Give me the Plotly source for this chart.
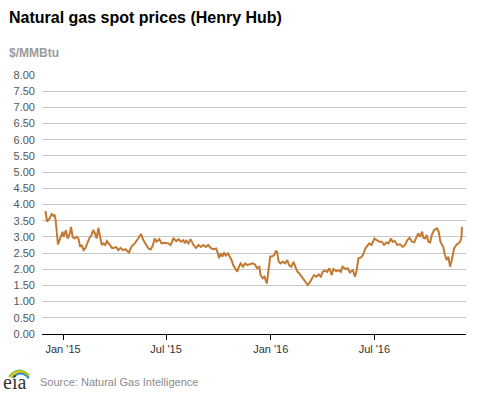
import plotly.graph_objects as go

dates = [
    "2014-12-01", "2014-12-04", "2014-12-09", "2014-12-12", "2014-12-15", "2014-12-17",
    "2014-12-19", "2014-12-23", "2014-12-28", "2014-12-31",
    "2015-01-02", "2015-01-06", "2015-01-09", "2015-01-13", "2015-01-15", "2015-01-18",
    "2015-01-21", "2015-01-25", "2015-01-28", "2015-01-31",
    "2015-02-03", "2015-02-06", "2015-02-09", "2015-02-12", "2015-02-16", "2015-02-20",
    "2015-02-23", "2015-02-26", "2015-03-01", "2015-03-04", "2015-03-07", "2015-03-10",
    "2015-03-13", "2015-03-16", "2015-03-19", "2015-03-22", "2015-03-25", "2015-03-28",
    "2015-03-31", "2015-04-04", "2015-04-08", "2015-04-12", "2015-04-16", "2015-04-20",
    "2015-04-24", "2015-04-27", "2015-05-01", "2015-05-07", "2015-05-13", "2015-05-18",
    "2015-05-22", "2015-05-27", "2015-05-31", "2015-06-04", "2015-06-08", "2015-06-11",
    "2015-06-14", "2015-06-19", "2015-06-23", "2015-06-29", "2015-07-05", "2015-07-09",
    "2015-07-14", "2015-07-19", "2015-07-23", "2015-07-27", "2015-07-31", "2015-08-03",
    "2015-08-05", "2015-08-09", "2015-08-13", "2015-08-18", "2015-08-23", "2015-08-27",
    "2015-08-31", "2015-09-04", "2015-09-09", "2015-09-13", "2015-09-17", "2015-09-22",
    "2015-09-27", "2015-09-30", "2015-10-02", "2015-10-05", "2015-10-08", "2015-10-11",
    "2015-10-14", "2015-10-18", "2015-10-21", "2015-10-24", "2015-10-27", "2015-10-31",
    "2015-11-03", "2015-11-06", "2015-11-09", "2015-11-13", "2015-11-17", "2015-11-21",
    "2015-11-26", "2015-11-30", "2015-12-04", "2015-12-08", "2015-12-12", "2015-12-14",
    "2015-12-18", "2015-12-21", "2015-12-25", "2015-12-28", "2015-12-31",
    "2016-01-03", "2016-01-07", "2016-01-10", "2016-01-12", "2016-01-15", "2016-01-18",
    "2016-01-22", "2016-01-26", "2016-01-30", "2016-02-02", "2016-02-06", "2016-02-10",
    "2016-02-13", "2016-02-17", "2016-02-20", "2016-02-24", "2016-02-28", "2016-03-03",
    "2016-03-06", "2016-03-10", "2016-03-13", "2016-03-17", "2016-03-21", "2016-03-25",
    "2016-03-29", "2016-04-01", "2016-04-05", "2016-04-09", "2016-04-13", "2016-04-17",
    "2016-04-20", "2016-04-25", "2016-04-29", "2016-05-03", "2016-05-06", "2016-05-11",
    "2016-05-15", "2016-05-19", "2016-05-24", "2016-05-28", "2016-05-31", "2016-06-03",
    "2016-06-07", "2016-06-11", "2016-06-15", "2016-06-19", "2016-06-22", "2016-06-26",
    "2016-07-01", "2016-07-05", "2016-07-10", "2016-07-14", "2016-07-18", "2016-07-22",
    "2016-07-26", "2016-07-30", "2016-08-02", "2016-08-06", "2016-08-10", "2016-08-15",
    "2016-08-20", "2016-08-24", "2016-08-28", "2016-09-01", "2016-09-05", "2016-09-09",
    "2016-09-12", "2016-09-16", "2016-09-19", "2016-09-23", "2016-09-25", "2016-09-28",
    "2016-10-01", "2016-10-04", "2016-10-07", "2016-10-10", "2016-10-14", "2016-10-19",
    "2016-10-22", "2016-10-25", "2016-10-28", "2016-10-30", "2016-11-02", "2016-11-05",
    "2016-11-08", "2016-11-11", "2016-11-14", "2016-11-16", "2016-11-18", "2016-11-22",
    "2016-11-26", "2016-11-29", "2016-12-01", "2016-12-02",
]

prices = [
    3.80, 3.47, 3.59, 3.70, 3.65, 3.69,
    3.52, 2.77, 3.00, 3.16,
    3.00, 3.21, 2.95, 3.11, 3.31, 3.00,
    2.95, 3.00, 2.95, 2.69,
    2.75, 2.59, 2.64, 2.80, 2.95, 3.06,
    3.21, 3.11, 2.95, 3.28, 2.95, 2.75,
    2.80, 2.75, 2.87, 2.80, 2.76, 2.66,
    2.66, 2.69, 2.59, 2.66, 2.59, 2.62,
    2.56, 2.52, 2.69, 2.80, 2.95, 3.09,
    2.90, 2.75, 2.64, 2.61, 2.75, 2.95,
    2.85, 2.93, 2.80, 2.82, 2.80, 2.75,
    2.95, 2.87, 2.93, 2.85, 2.90, 2.80,
    2.90, 2.80, 2.93, 2.75, 2.66, 2.75,
    2.69, 2.75, 2.69, 2.75, 2.66, 2.62,
    2.64, 2.49, 2.34, 2.49, 2.39, 2.52,
    2.42, 2.49, 2.39, 2.28, 2.13, 1.98,
    1.92, 2.08, 2.18, 2.08, 2.18, 2.13,
    2.15, 2.18, 2.15, 2.03, 2.08, 1.82,
    1.72, 1.77, 1.56, 1.92, 2.39,
    2.39, 2.44, 2.56, 2.54, 2.23, 2.18,
    2.23, 2.18, 2.28, 2.13, 2.08, 2.23,
    2.08, 1.92, 1.87, 1.77, 1.67, 1.56,
    1.51, 1.61, 1.72, 1.82, 1.77, 1.84,
    1.77, 1.92, 1.96, 1.92, 2.03, 1.82,
    2.01, 1.94, 1.97, 1.92, 2.08, 2.01,
    2.03, 1.90, 1.97, 1.77, 1.98, 2.34,
    2.36, 2.44, 2.64, 2.75, 2.80, 2.75,
    2.95, 2.90, 2.85, 2.85, 2.75, 2.83,
    2.80, 2.95, 2.85, 2.87, 2.75, 2.77,
    2.69, 2.75, 2.90, 2.97, 2.85, 2.83,
    2.97, 3.11, 3.00, 3.16, 2.97, 2.95,
    3.06, 2.85, 2.83, 3.06, 3.21, 3.26,
    3.16, 2.85, 2.75, 2.69, 2.44, 2.28,
    2.39, 2.08, 2.28, 2.49, 2.64, 2.75,
    2.80, 2.85, 3.00, 3.31,
]

tick_dates = ["2015-01-01", "2015-07-01", "2016-01-01", "2016-07-01"]
tick_labels = ["Jan '15", "Jul '15", "Jan '16", "Jul '16"]
y_ticks = [i * 0.5 for i in range(17)]

title_text = "Natural gas spot prices (Henry Hub)"
unit_text = "$/MMBtu"
source_text = "Source: Natural Gas Intelligence"

W, H = 477, 393
L, R, T, B = 42, 11, 75, 59
PW, PH = W - L - R, H - T - B


def px(x, y):
    """pixel -> paper coordinates (for decorations only)"""
    return (x - L) / PW, (H - B - y) / PH


fig = go.Figure()
fig.add_trace(go.Scatter(
    x=dates, y=prices, mode="lines",
    line=dict(color="#c27a33", width=2),
    hoverinfo="x+y", showlegend=False,
))

font_family = "Liberation Sans, Arial, sans-serif"

annotations = []
ax, ay = px(7, 17)
annotations.append(dict(text="<b>" + title_text + "</b>", xref="paper", yref="paper",
                        x=ax, y=ay, xanchor="left", yanchor="middle", showarrow=False,
                        font=dict(family=font_family, size=16, color="#000000")))
ax, ay = px(7, 53)
annotations.append(dict(text="<b>" + unit_text + "</b>", xref="paper", yref="paper",
                        x=ax, y=ay, xanchor="left", yanchor="middle", showarrow=False,
                        font=dict(family=font_family, size=12, color="#9a9a9a")))
ax, ay = px(38, 382)
annotations.append(dict(text=source_text, xref="paper", yref="paper",
                        x=ax, y=ay, xanchor="left", yanchor="middle", showarrow=False,
                        font=dict(family=font_family, size=11, color="#8a8a8a")))
ax, ay = px(1, 382)
annotations.append(dict(text="eia", xref="paper", yref="paper",
                        x=ax, y=ay, xanchor="left", yanchor="middle", showarrow=False,
                        font=dict(family="Liberation Serif, DejaVu Serif, serif", size=20,
                                  color="#333333")))

shapes = []
arc_specs = [("#8cc63f", 0), ("#f2c200", 2), ("#2a8fd0", 4)]
for color, off in arc_specs:
    x0, y0 = px(9 + off, 377 + off * 0.3)
    xm, ym = px(18 + off * 0.5, 365 + off)
    x1, y1 = px(29, 375 + off * 0.8)
    shapes.append(dict(type="path", xref="paper", yref="paper",
                       path=f"M {x0},{y0} Q {xm},{ym} {x1},{y1}",
                       line=dict(color=color, width=2)))

fig.update_layout(
    width=W, height=H,
    margin=dict(l=L, r=R, t=T, b=B, pad=0),
    paper_bgcolor="white", plot_bgcolor="white",
    annotations=annotations, shapes=shapes,
    xaxis=dict(
        type="date",
        range=["2014-11-25", "2016-12-09"],
        tickvals=tick_dates, ticktext=tick_labels,
        ticks="outside", ticklen=5, tickwidth=1, tickcolor="#000000",
        showline=True, linecolor="#000000", linewidth=1,
        showgrid=False, zeroline=False,
        tickfont=dict(family=font_family, size=11, color="#333333"),
    ),
    yaxis=dict(
        range=[0, 8], tickvals=y_ticks,
        tickformat=".2f",
        showgrid=True, gridcolor="#c8c8c8", gridwidth=1,
        zeroline=False, showline=False, ticks="",
        ticklabelstandoff=6,
        tickfont=dict(family=font_family, size=11, color="#555555"),
    ),
    font=dict(family=font_family),
)

fig.write_html(
    "out.html",
    config={"displayModeBar": False},
    post_script="document.body.style.margin='0';document.body.style.overflow='hidden';",
)
